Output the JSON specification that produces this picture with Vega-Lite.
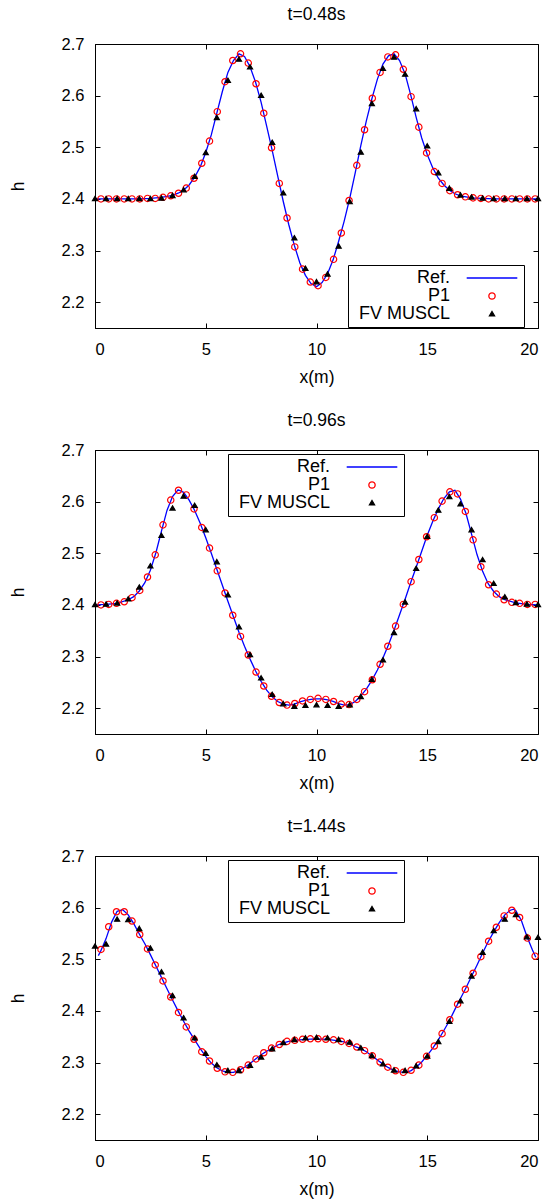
{
  "$schema": "https://vega.github.io/schema/vega-lite/v6.json",
  "background": "white",
  "padding": {"left": 8, "top": 5, "right": 5, "bottom": 2},
  "spacing": 24,
  "config": {
    "font": "Liberation Sans",
    "view": {"stroke": "black", "strokeWidth": 1},
    "axis": {"grid": false, "domainColor": "black", "domainWidth": 1, "tickColor": "black", "tickSize": -5, "tickWidth": 1, "labelColor": "black", "labelFontSize": 16.5, "labelFont": "Liberation Sans", "titleFont": "Liberation Sans", "titleFontSize": 17.5, "titleFontWeight": "normal", "titleColor": "black", "labelPadding": 18},
    "axisY": {"labelPadding": 16},
    "title": {"font": "Liberation Sans", "fontSize": 17.5, "fontWeight": "normal", "color": "black", "offset": 13},
    "legend": {"labelFont": "Liberation Sans", "labelFontSize": 18, "labelColor": "black", "strokeColor": "black", "fillColor": "white", "padding": 4, "rowPadding": 0, "labelAlign": "right", "labelOffset": -51, "symbolOffset": 131, "symbolSize": 40, "symbolStrokeWidth": 1.3}
  },
  "resolve": {"scale": {"color": "independent", "shape": "independent", "fill": "independent"}, "legend": {"color": "independent", "shape": "independent", "fill": "independent"}},
  "datasets": {
    "t048": [
      {"s":"Ref.","x":0,"h":2.4},{"s":"Ref.","x":1,"h":2.4},{"s":"Ref.","x":2,"h":2.4},{"s":"Ref.","x":2.5,"h":2.401},{"s":"Ref.","x":3,"h":2.403},{"s":"Ref.","x":3.25,"h":2.405},{"s":"Ref.","x":3.5,"h":2.407},{"s":"Ref.","x":3.75,"h":2.411},{"s":"Ref.","x":4,"h":2.417},{"s":"Ref.","x":4.25,"h":2.427},{"s":"Ref.","x":4.5,"h":2.442},{"s":"Ref.","x":4.75,"h":2.462},{"s":"Ref.","x":5,"h":2.49},{"s":"Ref.","x":5.25,"h":2.524},{"s":"Ref.","x":5.5,"h":2.566},{"s":"Ref.","x":5.75,"h":2.608},{"s":"Ref.","x":6,"h":2.645},{"s":"Ref.","x":6.25,"h":2.668},{"s":"Ref.","x":6.5,"h":2.681},{"s":"Ref.","x":6.75,"h":2.676},{"s":"Ref.","x":7,"h":2.656},{"s":"Ref.","x":7.25,"h":2.626},{"s":"Ref.","x":7.5,"h":2.587},{"s":"Ref.","x":7.75,"h":2.541},{"s":"Ref.","x":8,"h":2.494},{"s":"Ref.","x":8.25,"h":2.444},{"s":"Ref.","x":8.5,"h":2.395},{"s":"Ref.","x":8.75,"h":2.35},{"s":"Ref.","x":9,"h":2.31},{"s":"Ref.","x":9.25,"h":2.276},{"s":"Ref.","x":9.5,"h":2.252},{"s":"Ref.","x":9.75,"h":2.236},{"s":"Ref.","x":10,"h":2.23},{"s":"Ref.","x":10.25,"h":2.238},{"s":"Ref.","x":10.5,"h":2.255},{"s":"Ref.","x":10.75,"h":2.282},{"s":"Ref.","x":11,"h":2.318},{"s":"Ref.","x":11.25,"h":2.357},{"s":"Ref.","x":11.5,"h":2.401},{"s":"Ref.","x":11.75,"h":2.451},{"s":"Ref.","x":12,"h":2.503},{"s":"Ref.","x":12.25,"h":2.551},{"s":"Ref.","x":12.5,"h":2.594},{"s":"Ref.","x":12.75,"h":2.632},{"s":"Ref.","x":13,"h":2.661},{"s":"Ref.","x":13.25,"h":2.677},{"s":"Ref.","x":13.5,"h":2.681},{"s":"Ref.","x":13.75,"h":2.668},{"s":"Ref.","x":14,"h":2.642},{"s":"Ref.","x":14.25,"h":2.602},{"s":"Ref.","x":14.5,"h":2.558},{"s":"Ref.","x":14.75,"h":2.518},{"s":"Ref.","x":15,"h":2.486},{"s":"Ref.","x":15.25,"h":2.46},{"s":"Ref.","x":15.5,"h":2.44},{"s":"Ref.","x":15.75,"h":2.427},{"s":"Ref.","x":16,"h":2.417},{"s":"Ref.","x":16.25,"h":2.41},{"s":"Ref.","x":16.5,"h":2.406},{"s":"Ref.","x":16.75,"h":2.404},{"s":"Ref.","x":17,"h":2.402},{"s":"Ref.","x":17.5,"h":2.401},{"s":"Ref.","x":18,"h":2.4},{"s":"Ref.","x":19,"h":2.4},{"s":"Ref.","x":20,"h":2.4},
      {"s":"P1","x":0.27,"h":2.4},{"s":"P1","x":0.62,"h":2.4},{"s":"P1","x":0.97,"h":2.4},{"s":"P1","x":1.32,"h":2.4},{"s":"P1","x":1.67,"h":2.4},{"s":"P1","x":2.02,"h":2.4},{"s":"P1","x":2.37,"h":2.401},{"s":"P1","x":2.72,"h":2.401},{"s":"P1","x":3.07,"h":2.403},{"s":"P1","x":3.42,"h":2.406},{"s":"P1","x":3.77,"h":2.411},{"s":"P1","x":4.12,"h":2.421},{"s":"P1","x":4.47,"h":2.44},{"s":"P1","x":4.82,"h":2.469},{"s":"P1","x":5.17,"h":2.512},{"s":"P1","x":5.52,"h":2.569},{"s":"P1","x":5.87,"h":2.627},{"s":"P1","x":6.22,"h":2.668},{"s":"P1","x":6.57,"h":2.681},{"s":"P1","x":6.92,"h":2.663},{"s":"P1","x":7.27,"h":2.623},{"s":"P1","x":7.62,"h":2.566},{"s":"P1","x":7.97,"h":2.499},{"s":"P1","x":8.32,"h":2.43},{"s":"P1","x":8.67,"h":2.363},{"s":"P1","x":9.02,"h":2.307},{"s":"P1","x":9.37,"h":2.264},{"s":"P1","x":9.72,"h":2.239},{"s":"P1","x":10.07,"h":2.232},{"s":"P1","x":10.42,"h":2.248},{"s":"P1","x":10.77,"h":2.283},{"s":"P1","x":11.12,"h":2.334},{"s":"P1","x":11.47,"h":2.397},{"s":"P1","x":11.82,"h":2.465},{"s":"P1","x":12.17,"h":2.534},{"s":"P1","x":12.52,"h":2.595},{"s":"P1","x":12.87,"h":2.645},{"s":"P1","x":13.22,"h":2.675},{"s":"P1","x":13.57,"h":2.679},{"s":"P1","x":13.92,"h":2.651},{"s":"P1","x":14.27,"h":2.598},{"s":"P1","x":14.62,"h":2.539},{"s":"P1","x":14.97,"h":2.489},{"s":"P1","x":15.32,"h":2.453},{"s":"P1","x":15.67,"h":2.43},{"s":"P1","x":16.02,"h":2.416},{"s":"P1","x":16.37,"h":2.408},{"s":"P1","x":16.72,"h":2.404},{"s":"P1","x":17.07,"h":2.402},{"s":"P1","x":17.42,"h":2.401},{"s":"P1","x":17.77,"h":2.4},{"s":"P1","x":18.12,"h":2.4},{"s":"P1","x":18.47,"h":2.4},{"s":"P1","x":18.82,"h":2.4},{"s":"P1","x":19.17,"h":2.4},{"s":"P1","x":19.52,"h":2.4},{"s":"P1","x":19.87,"h":2.4},
      {"s":"FV MUSCL","x":0,"h":2.4},{"s":"FV MUSCL","x":0.5,"h":2.4},{"s":"FV MUSCL","x":1,"h":2.4},{"s":"FV MUSCL","x":1.5,"h":2.4},{"s":"FV MUSCL","x":2,"h":2.4},{"s":"FV MUSCL","x":2.5,"h":2.4},{"s":"FV MUSCL","x":3,"h":2.401},{"s":"FV MUSCL","x":3.5,"h":2.406},{"s":"FV MUSCL","x":4,"h":2.417},{"s":"FV MUSCL","x":4.5,"h":2.443},{"s":"FV MUSCL","x":5,"h":2.489},{"s":"FV MUSCL","x":5.5,"h":2.557},{"s":"FV MUSCL","x":6,"h":2.629},{"s":"FV MUSCL","x":6.5,"h":2.67},{"s":"FV MUSCL","x":7,"h":2.655},{"s":"FV MUSCL","x":7.5,"h":2.6},{"s":"FV MUSCL","x":8,"h":2.509},{"s":"FV MUSCL","x":8.5,"h":2.411},{"s":"FV MUSCL","x":9,"h":2.324},{"s":"FV MUSCL","x":9.5,"h":2.265},{"s":"FV MUSCL","x":10,"h":2.239},{"s":"FV MUSCL","x":10.5,"h":2.254},{"s":"FV MUSCL","x":11,"h":2.308},{"s":"FV MUSCL","x":11.5,"h":2.394},{"s":"FV MUSCL","x":12,"h":2.49},{"s":"FV MUSCL","x":12.5,"h":2.584},{"s":"FV MUSCL","x":13,"h":2.652},{"s":"FV MUSCL","x":13.5,"h":2.674},{"s":"FV MUSCL","x":14,"h":2.641},{"s":"FV MUSCL","x":14.5,"h":2.574},{"s":"FV MUSCL","x":15,"h":2.502},{"s":"FV MUSCL","x":15.5,"h":2.45},{"s":"FV MUSCL","x":16,"h":2.42},{"s":"FV MUSCL","x":16.5,"h":2.407},{"s":"FV MUSCL","x":17,"h":2.403},{"s":"FV MUSCL","x":17.5,"h":2.401},{"s":"FV MUSCL","x":18,"h":2.4},{"s":"FV MUSCL","x":18.5,"h":2.4},{"s":"FV MUSCL","x":19,"h":2.4},{"s":"FV MUSCL","x":19.5,"h":2.4},{"s":"FV MUSCL","x":20,"h":2.4}
    ],
    "t096": [
      {"s":"Ref.","x":0,"h":2.4},{"s":"Ref.","x":0.5,"h":2.401},{"s":"Ref.","x":1,"h":2.403},{"s":"Ref.","x":1.5,"h":2.41},{"s":"Ref.","x":1.75,"h":2.416},{"s":"Ref.","x":2,"h":2.427},{"s":"Ref.","x":2.25,"h":2.443},{"s":"Ref.","x":2.5,"h":2.467},{"s":"Ref.","x":2.75,"h":2.501},{"s":"Ref.","x":3,"h":2.543},{"s":"Ref.","x":3.25,"h":2.583},{"s":"Ref.","x":3.5,"h":2.61},{"s":"Ref.","x":3.75,"h":2.623},{"s":"Ref.","x":4,"h":2.618},{"s":"Ref.","x":4.25,"h":2.603},{"s":"Ref.","x":4.5,"h":2.583},{"s":"Ref.","x":4.75,"h":2.558},{"s":"Ref.","x":5,"h":2.53},{"s":"Ref.","x":5.25,"h":2.5},{"s":"Ref.","x":5.5,"h":2.469},{"s":"Ref.","x":5.75,"h":2.438},{"s":"Ref.","x":6,"h":2.407},{"s":"Ref.","x":6.25,"h":2.377},{"s":"Ref.","x":6.5,"h":2.347},{"s":"Ref.","x":6.75,"h":2.32},{"s":"Ref.","x":7,"h":2.295},{"s":"Ref.","x":7.25,"h":2.272},{"s":"Ref.","x":7.5,"h":2.252},{"s":"Ref.","x":7.75,"h":2.235},{"s":"Ref.","x":8,"h":2.222},{"s":"Ref.","x":8.25,"h":2.213},{"s":"Ref.","x":8.5,"h":2.208},{"s":"Ref.","x":8.75,"h":2.206},{"s":"Ref.","x":9,"h":2.208},{"s":"Ref.","x":9.25,"h":2.212},{"s":"Ref.","x":9.5,"h":2.215},{"s":"Ref.","x":9.75,"h":2.217},{"s":"Ref.","x":10,"h":2.218},{"s":"Ref.","x":10.25,"h":2.218},{"s":"Ref.","x":10.5,"h":2.216},{"s":"Ref.","x":10.75,"h":2.213},{"s":"Ref.","x":11,"h":2.209},{"s":"Ref.","x":11.25,"h":2.206},{"s":"Ref.","x":11.5,"h":2.207},{"s":"Ref.","x":11.75,"h":2.213},{"s":"Ref.","x":12,"h":2.224},{"s":"Ref.","x":12.25,"h":2.237},{"s":"Ref.","x":12.5,"h":2.254},{"s":"Ref.","x":12.75,"h":2.274},{"s":"Ref.","x":13,"h":2.297},{"s":"Ref.","x":13.25,"h":2.323},{"s":"Ref.","x":13.5,"h":2.351},{"s":"Ref.","x":13.75,"h":2.381},{"s":"Ref.","x":14,"h":2.411},{"s":"Ref.","x":14.25,"h":2.443},{"s":"Ref.","x":14.5,"h":2.473},{"s":"Ref.","x":14.75,"h":2.504},{"s":"Ref.","x":15,"h":2.535},{"s":"Ref.","x":15.25,"h":2.562},{"s":"Ref.","x":15.5,"h":2.586},{"s":"Ref.","x":15.75,"h":2.606},{"s":"Ref.","x":16,"h":2.619},{"s":"Ref.","x":16.25,"h":2.622},{"s":"Ref.","x":16.5,"h":2.605},{"s":"Ref.","x":16.75,"h":2.577},{"s":"Ref.","x":17,"h":2.537},{"s":"Ref.","x":17.25,"h":2.497},{"s":"Ref.","x":17.5,"h":2.465},{"s":"Ref.","x":17.75,"h":2.441},{"s":"Ref.","x":18,"h":2.426},{"s":"Ref.","x":18.25,"h":2.416},{"s":"Ref.","x":18.5,"h":2.41},{"s":"Ref.","x":19,"h":2.404},{"s":"Ref.","x":19.5,"h":2.401},{"s":"Ref.","x":20,"h":2.4},
      {"s":"P1","x":0.27,"h":2.4},{"s":"P1","x":0.62,"h":2.401},{"s":"P1","x":0.97,"h":2.403},{"s":"P1","x":1.32,"h":2.406},{"s":"P1","x":1.67,"h":2.414},{"s":"P1","x":2.02,"h":2.428},{"s":"P1","x":2.37,"h":2.454},{"s":"P1","x":2.72,"h":2.497},{"s":"P1","x":3.07,"h":2.555},{"s":"P1","x":3.42,"h":2.603},{"s":"P1","x":3.77,"h":2.622},{"s":"P1","x":4.12,"h":2.613},{"s":"P1","x":4.47,"h":2.586},{"s":"P1","x":4.82,"h":2.55},{"s":"P1","x":5.17,"h":2.51},{"s":"P1","x":5.52,"h":2.466},{"s":"P1","x":5.87,"h":2.423},{"s":"P1","x":6.22,"h":2.38},{"s":"P1","x":6.57,"h":2.339},{"s":"P1","x":6.92,"h":2.303},{"s":"P1","x":7.27,"h":2.27},{"s":"P1","x":7.62,"h":2.243},{"s":"P1","x":7.97,"h":2.223},{"s":"P1","x":8.32,"h":2.211},{"s":"P1","x":8.67,"h":2.206},{"s":"P1","x":9.02,"h":2.209},{"s":"P1","x":9.37,"h":2.214},{"s":"P1","x":9.72,"h":2.217},{"s":"P1","x":10.07,"h":2.219},{"s":"P1","x":10.42,"h":2.217},{"s":"P1","x":10.77,"h":2.213},{"s":"P1","x":11.12,"h":2.208},{"s":"P1","x":11.47,"h":2.207},{"s":"P1","x":11.82,"h":2.217},{"s":"P1","x":12.17,"h":2.232},{"s":"P1","x":12.52,"h":2.255},{"s":"P1","x":12.87,"h":2.285},{"s":"P1","x":13.22,"h":2.32},{"s":"P1","x":13.57,"h":2.359},{"s":"P1","x":13.92,"h":2.401},{"s":"P1","x":14.27,"h":2.445},{"s":"P1","x":14.62,"h":2.488},{"s":"P1","x":14.97,"h":2.532},{"s":"P1","x":15.32,"h":2.569},{"s":"P1","x":15.67,"h":2.601},{"s":"P1","x":16.02,"h":2.619},{"s":"P1","x":16.37,"h":2.615},{"s":"P1","x":16.72,"h":2.581},{"s":"P1","x":17.07,"h":2.526},{"s":"P1","x":17.42,"h":2.474},{"s":"P1","x":17.77,"h":2.439},{"s":"P1","x":18.12,"h":2.421},{"s":"P1","x":18.47,"h":2.41},{"s":"P1","x":18.82,"h":2.405},{"s":"P1","x":19.17,"h":2.403},{"s":"P1","x":19.52,"h":2.401},{"s":"P1","x":19.87,"h":2.401},
      {"s":"FV MUSCL","x":0,"h":2.4},{"s":"FV MUSCL","x":0.5,"h":2.401},{"s":"FV MUSCL","x":1,"h":2.403},{"s":"FV MUSCL","x":1.5,"h":2.411},{"s":"FV MUSCL","x":2,"h":2.434},{"s":"FV MUSCL","x":2.5,"h":2.475},{"s":"FV MUSCL","x":3,"h":2.534},{"s":"FV MUSCL","x":3.5,"h":2.587},{"s":"FV MUSCL","x":4,"h":2.61},{"s":"FV MUSCL","x":4.5,"h":2.592},{"s":"FV MUSCL","x":5,"h":2.545},{"s":"FV MUSCL","x":5.5,"h":2.483},{"s":"FV MUSCL","x":6,"h":2.419},{"s":"FV MUSCL","x":6.5,"h":2.357},{"s":"FV MUSCL","x":7,"h":2.303},{"s":"FV MUSCL","x":7.5,"h":2.258},{"s":"FV MUSCL","x":8,"h":2.226},{"s":"FV MUSCL","x":8.5,"h":2.208},{"s":"FV MUSCL","x":9,"h":2.203},{"s":"FV MUSCL","x":9.5,"h":2.205},{"s":"FV MUSCL","x":10,"h":2.206},{"s":"FV MUSCL","x":10.5,"h":2.205},{"s":"FV MUSCL","x":11,"h":2.203},{"s":"FV MUSCL","x":11.5,"h":2.206},{"s":"FV MUSCL","x":12,"h":2.222},{"s":"FV MUSCL","x":12.5,"h":2.255},{"s":"FV MUSCL","x":13,"h":2.293},{"s":"FV MUSCL","x":13.5,"h":2.346},{"s":"FV MUSCL","x":14,"h":2.405},{"s":"FV MUSCL","x":14.5,"h":2.47},{"s":"FV MUSCL","x":15,"h":2.532},{"s":"FV MUSCL","x":15.5,"h":2.583},{"s":"FV MUSCL","x":16,"h":2.609},{"s":"FV MUSCL","x":16.5,"h":2.595},{"s":"FV MUSCL","x":17,"h":2.545},{"s":"FV MUSCL","x":17.5,"h":2.487},{"s":"FV MUSCL","x":18,"h":2.441},{"s":"FV MUSCL","x":18.5,"h":2.415},{"s":"FV MUSCL","x":19,"h":2.404},{"s":"FV MUSCL","x":19.5,"h":2.401},{"s":"FV MUSCL","x":20,"h":2.4}
    ],
    "t144": [
      {"s":"Ref.","x":0.15,"h":2.507},{"s":"Ref.","x":0.25,"h":2.515},{"s":"Ref.","x":0.5,"h":2.54},{"s":"Ref.","x":0.75,"h":2.572},{"s":"Ref.","x":1,"h":2.593},{"s":"Ref.","x":1.25,"h":2.596},{"s":"Ref.","x":1.5,"h":2.586},{"s":"Ref.","x":1.75,"h":2.569},{"s":"Ref.","x":2,"h":2.549},{"s":"Ref.","x":2.25,"h":2.53},{"s":"Ref.","x":2.5,"h":2.509},{"s":"Ref.","x":2.75,"h":2.487},{"s":"Ref.","x":3,"h":2.465},{"s":"Ref.","x":3.25,"h":2.443},{"s":"Ref.","x":3.5,"h":2.421},{"s":"Ref.","x":3.75,"h":2.4},{"s":"Ref.","x":4,"h":2.38},{"s":"Ref.","x":4.25,"h":2.361},{"s":"Ref.","x":4.5,"h":2.344},{"s":"Ref.","x":4.75,"h":2.327},{"s":"Ref.","x":5,"h":2.312},{"s":"Ref.","x":5.25,"h":2.299},{"s":"Ref.","x":5.5,"h":2.29},{"s":"Ref.","x":5.75,"h":2.284},{"s":"Ref.","x":6,"h":2.281},{"s":"Ref.","x":6.25,"h":2.281},{"s":"Ref.","x":6.5,"h":2.285},{"s":"Ref.","x":6.75,"h":2.291},{"s":"Ref.","x":7,"h":2.298},{"s":"Ref.","x":7.25,"h":2.307},{"s":"Ref.","x":7.5,"h":2.315},{"s":"Ref.","x":7.75,"h":2.322},{"s":"Ref.","x":8,"h":2.328},{"s":"Ref.","x":8.25,"h":2.334},{"s":"Ref.","x":8.5,"h":2.338},{"s":"Ref.","x":8.75,"h":2.341},{"s":"Ref.","x":9,"h":2.343},{"s":"Ref.","x":9.5,"h":2.345},{"s":"Ref.","x":10,"h":2.346},{"s":"Ref.","x":10.5,"h":2.345},{"s":"Ref.","x":11,"h":2.342},{"s":"Ref.","x":11.25,"h":2.34},{"s":"Ref.","x":11.5,"h":2.336},{"s":"Ref.","x":11.75,"h":2.331},{"s":"Ref.","x":12,"h":2.327},{"s":"Ref.","x":12.25,"h":2.321},{"s":"Ref.","x":12.5,"h":2.313},{"s":"Ref.","x":12.75,"h":2.305},{"s":"Ref.","x":13,"h":2.297},{"s":"Ref.","x":13.25,"h":2.29},{"s":"Ref.","x":13.5,"h":2.285},{"s":"Ref.","x":13.75,"h":2.282},{"s":"Ref.","x":14,"h":2.281},{"s":"Ref.","x":14.25,"h":2.284},{"s":"Ref.","x":14.5,"h":2.291},{"s":"Ref.","x":14.75,"h":2.301},{"s":"Ref.","x":15,"h":2.314},{"s":"Ref.","x":15.25,"h":2.328},{"s":"Ref.","x":15.5,"h":2.344},{"s":"Ref.","x":15.75,"h":2.362},{"s":"Ref.","x":16,"h":2.381},{"s":"Ref.","x":16.25,"h":2.403},{"s":"Ref.","x":16.5,"h":2.424},{"s":"Ref.","x":16.75,"h":2.445},{"s":"Ref.","x":17,"h":2.467},{"s":"Ref.","x":17.25,"h":2.489},{"s":"Ref.","x":17.5,"h":2.512},{"s":"Ref.","x":17.75,"h":2.534},{"s":"Ref.","x":18,"h":2.553},{"s":"Ref.","x":18.25,"h":2.571},{"s":"Ref.","x":18.5,"h":2.586},{"s":"Ref.","x":18.75,"h":2.595},{"s":"Ref.","x":18.9,"h":2.597},{"s":"Ref.","x":19,"h":2.594},{"s":"Ref.","x":19.25,"h":2.575},{"s":"Ref.","x":19.5,"h":2.544},{"s":"Ref.","x":19.75,"h":2.518},{"s":"Ref.","x":19.9,"h":2.504},
      {"s":"P1","x":0.27,"h":2.519},{"s":"P1","x":0.62,"h":2.563},{"s":"P1","x":0.97,"h":2.592},{"s":"P1","x":1.32,"h":2.592},{"s":"P1","x":1.67,"h":2.574},{"s":"P1","x":2.02,"h":2.548},{"s":"P1","x":2.37,"h":2.52},{"s":"P1","x":2.72,"h":2.489},{"s":"P1","x":3.07,"h":2.458},{"s":"P1","x":3.42,"h":2.427},{"s":"P1","x":3.77,"h":2.397},{"s":"P1","x":4.12,"h":2.369},{"s":"P1","x":4.47,"h":2.345},{"s":"P1","x":4.82,"h":2.321},{"s":"P1","x":5.17,"h":2.303},{"s":"P1","x":5.52,"h":2.289},{"s":"P1","x":5.87,"h":2.282},{"s":"P1","x":6.22,"h":2.281},{"s":"P1","x":6.57,"h":2.286},{"s":"P1","x":6.92,"h":2.295},{"s":"P1","x":7.27,"h":2.307},{"s":"P1","x":7.62,"h":2.319},{"s":"P1","x":7.97,"h":2.328},{"s":"P1","x":8.32,"h":2.335},{"s":"P1","x":8.67,"h":2.341},{"s":"P1","x":9.02,"h":2.343},{"s":"P1","x":9.37,"h":2.345},{"s":"P1","x":9.72,"h":2.346},{"s":"P1","x":10.07,"h":2.346},{"s":"P1","x":10.42,"h":2.345},{"s":"P1","x":10.77,"h":2.344},{"s":"P1","x":11.12,"h":2.341},{"s":"P1","x":11.47,"h":2.337},{"s":"P1","x":11.82,"h":2.33},{"s":"P1","x":12.17,"h":2.323},{"s":"P1","x":12.52,"h":2.313},{"s":"P1","x":12.87,"h":2.301},{"s":"P1","x":13.22,"h":2.291},{"s":"P1","x":13.57,"h":2.284},{"s":"P1","x":13.92,"h":2.281},{"s":"P1","x":14.27,"h":2.285},{"s":"P1","x":14.62,"h":2.295},{"s":"P1","x":14.97,"h":2.312},{"s":"P1","x":15.32,"h":2.332},{"s":"P1","x":15.67,"h":2.356},{"s":"P1","x":16.02,"h":2.383},{"s":"P1","x":16.37,"h":2.413},{"s":"P1","x":16.72,"h":2.442},{"s":"P1","x":17.07,"h":2.473},{"s":"P1","x":17.42,"h":2.505},{"s":"P1","x":17.77,"h":2.535},{"s":"P1","x":18.12,"h":2.562},{"s":"P1","x":18.47,"h":2.584},{"s":"P1","x":18.82,"h":2.595},{"s":"P1","x":19.17,"h":2.581},{"s":"P1","x":19.52,"h":2.541},{"s":"P1","x":19.87,"h":2.506},
      {"s":"FV MUSCL","x":0,"h":2.525},{"s":"FV MUSCL","x":0.5,"h":2.529},{"s":"FV MUSCL","x":1,"h":2.577},{"s":"FV MUSCL","x":1.5,"h":2.576},{"s":"FV MUSCL","x":2,"h":2.559},{"s":"FV MUSCL","x":2.5,"h":2.521},{"s":"FV MUSCL","x":3,"h":2.475},{"s":"FV MUSCL","x":3.5,"h":2.429},{"s":"FV MUSCL","x":4,"h":2.386},{"s":"FV MUSCL","x":4.5,"h":2.347},{"s":"FV MUSCL","x":5,"h":2.317},{"s":"FV MUSCL","x":5.5,"h":2.295},{"s":"FV MUSCL","x":6,"h":2.284},{"s":"FV MUSCL","x":6.5,"h":2.284},{"s":"FV MUSCL","x":7,"h":2.294},{"s":"FV MUSCL","x":7.5,"h":2.31},{"s":"FV MUSCL","x":8,"h":2.326},{"s":"FV MUSCL","x":8.5,"h":2.338},{"s":"FV MUSCL","x":9,"h":2.344},{"s":"FV MUSCL","x":9.5,"h":2.347},{"s":"FV MUSCL","x":10,"h":2.348},{"s":"FV MUSCL","x":10.5,"h":2.347},{"s":"FV MUSCL","x":11,"h":2.344},{"s":"FV MUSCL","x":11.5,"h":2.339},{"s":"FV MUSCL","x":12,"h":2.328},{"s":"FV MUSCL","x":12.5,"h":2.313},{"s":"FV MUSCL","x":13,"h":2.297},{"s":"FV MUSCL","x":13.5,"h":2.285},{"s":"FV MUSCL","x":14,"h":2.284},{"s":"FV MUSCL","x":14.5,"h":2.293},{"s":"FV MUSCL","x":15,"h":2.312},{"s":"FV MUSCL","x":15.5,"h":2.34},{"s":"FV MUSCL","x":16,"h":2.379},{"s":"FV MUSCL","x":16.5,"h":2.419},{"s":"FV MUSCL","x":17,"h":2.467},{"s":"FV MUSCL","x":17.5,"h":2.513},{"s":"FV MUSCL","x":18,"h":2.555},{"s":"FV MUSCL","x":18.5,"h":2.577},{"s":"FV MUSCL","x":19,"h":2.586},{"s":"FV MUSCL","x":19.5,"h":2.543},{"s":"FV MUSCL","x":20,"h":2.542}
    ]
  },
  "vconcat": [
    {
      "title": "t=0.48s",
      "width": 443, "height": 284,
      "data": {"name": "t048"},
      "layer": [
        {
          "transform": [{"filter": "datum.s === 'Ref.'"}],
          "mark": {"type": "line", "strokeWidth": 1.3},
          "encoding": {
            "x": {"field": "x", "type": "quantitative", "scale": {"domain": [0, 20], "nice": false}, "axis": {"orient": "bottom", "title": "x(m)", "values": [0, 5, 10, 15, 20], "titlePadding": 11}},
            "y": {"field": "h", "type": "quantitative", "scale": {"domain": [2.15, 2.7], "nice": false, "zero": false}, "axis": {"orient": "left", "title": "h", "values": [2.2, 2.3, 2.4, 2.5, 2.6, 2.7], "format": ".1f", "titlePadding": 34}},
            "color": {"field": "s", "type": "nominal", "scale": {"domain": ["Ref.", "P1", "FV MUSCL"], "range": ["#0000ff", "#ff0000", "#000000"]}, "legend": {"title": null, "orient": "none", "legendX": 253, "legendY": 221}}
          }
        },
        {
          "transform": [{"filter": "datum.s !== 'Ref.'"}],
          "mark": {"type": "point", "filled": false, "strokeWidth": 1.2, "size": 40, "opacity": 1},
          "encoding": {
            "x": {"field": "x", "type": "quantitative", "scale": {"domain": [0, 20], "nice": false}, "axis": {"orient": "top", "labels": false, "title": null, "domain": false, "values": [0, 5, 10, 15, 20]}},
            "y": {"field": "h", "type": "quantitative", "scale": {"domain": [2.15, 2.7], "nice": false, "zero": false}, "axis": {"orient": "right", "labels": false, "title": null, "domain": false, "values": [2.2, 2.3, 2.4, 2.5, 2.6, 2.7]}},
            "color": {"field": "s", "type": "nominal", "scale": {"domain": ["Ref.", "P1", "FV MUSCL"], "range": ["#0000ff", "#ff0000", "#000000"]}, "legend": {"title": null, "orient": "none", "legendX": 253, "legendY": 221}},
            "shape": {"field": "s", "type": "nominal", "scale": {"domain": ["Ref.", "P1", "FV MUSCL"], "range": ["M-8,0H8", "circle", "M0,-0.8L0.8,0.55L-0.8,0.55Z"]}, "legend": {"title": null, "orient": "none", "legendX": 253, "legendY": 221}},
            "fill": {"field": "s", "type": "nominal", "scale": {"domain": ["Ref.", "P1", "FV MUSCL"], "range": ["transparent", "transparent", "#000000"]}, "legend": {"title": null, "orient": "none", "legendX": 253, "legendY": 221}}
          }
        }
      ]
    },
    {
      "title": "t=0.96s",
      "width": 443, "height": 284,
      "data": {"name": "t096"},
      "layer": [
        {
          "transform": [{"filter": "datum.s === 'Ref.'"}],
          "mark": {"type": "line", "strokeWidth": 1.3},
          "encoding": {
            "x": {"field": "x", "type": "quantitative", "scale": {"domain": [0, 20], "nice": false}, "axis": {"orient": "bottom", "title": "x(m)", "values": [0, 5, 10, 15, 20], "titlePadding": 11}},
            "y": {"field": "h", "type": "quantitative", "scale": {"domain": [2.15, 2.7], "nice": false, "zero": false}, "axis": {"orient": "left", "title": "h", "values": [2.2, 2.3, 2.4, 2.5, 2.6, 2.7], "format": ".1f", "titlePadding": 34}},
            "color": {"field": "s", "type": "nominal", "scale": {"domain": ["Ref.", "P1", "FV MUSCL"], "range": ["#0000ff", "#ff0000", "#000000"]}, "legend": {"title": null, "orient": "none", "legendX": 133, "legendY": 4}}
          }
        },
        {
          "transform": [{"filter": "datum.s !== 'Ref.'"}],
          "mark": {"type": "point", "filled": false, "strokeWidth": 1.2, "size": 40, "opacity": 1},
          "encoding": {
            "x": {"field": "x", "type": "quantitative", "scale": {"domain": [0, 20], "nice": false}, "axis": {"orient": "top", "labels": false, "title": null, "domain": false, "values": [0, 5, 10, 15, 20]}},
            "y": {"field": "h", "type": "quantitative", "scale": {"domain": [2.15, 2.7], "nice": false, "zero": false}, "axis": {"orient": "right", "labels": false, "title": null, "domain": false, "values": [2.2, 2.3, 2.4, 2.5, 2.6, 2.7]}},
            "color": {"field": "s", "type": "nominal", "scale": {"domain": ["Ref.", "P1", "FV MUSCL"], "range": ["#0000ff", "#ff0000", "#000000"]}, "legend": {"title": null, "orient": "none", "legendX": 133, "legendY": 4}},
            "shape": {"field": "s", "type": "nominal", "scale": {"domain": ["Ref.", "P1", "FV MUSCL"], "range": ["M-8,0H8", "circle", "M0,-0.8L0.8,0.55L-0.8,0.55Z"]}, "legend": {"title": null, "orient": "none", "legendX": 133, "legendY": 4}},
            "fill": {"field": "s", "type": "nominal", "scale": {"domain": ["Ref.", "P1", "FV MUSCL"], "range": ["transparent", "transparent", "#000000"]}, "legend": {"title": null, "orient": "none", "legendX": 133, "legendY": 4}}
          }
        }
      ]
    },
    {
      "title": "t=1.44s",
      "width": 443, "height": 284,
      "data": {"name": "t144"},
      "layer": [
        {
          "transform": [{"filter": "datum.s === 'Ref.'"}],
          "mark": {"type": "line", "strokeWidth": 1.3},
          "encoding": {
            "x": {"field": "x", "type": "quantitative", "scale": {"domain": [0, 20], "nice": false}, "axis": {"orient": "bottom", "title": "x(m)", "values": [0, 5, 10, 15, 20], "titlePadding": 11}},
            "y": {"field": "h", "type": "quantitative", "scale": {"domain": [2.15, 2.7], "nice": false, "zero": false}, "axis": {"orient": "left", "title": "h", "values": [2.2, 2.3, 2.4, 2.5, 2.6, 2.7], "format": ".1f", "titlePadding": 34}},
            "color": {"field": "s", "type": "nominal", "scale": {"domain": ["Ref.", "P1", "FV MUSCL"], "range": ["#0000ff", "#ff0000", "#000000"]}, "legend": {"title": null, "orient": "none", "legendX": 133, "legendY": 4}}
          }
        },
        {
          "transform": [{"filter": "datum.s !== 'Ref.'"}],
          "mark": {"type": "point", "filled": false, "strokeWidth": 1.2, "size": 40, "opacity": 1},
          "encoding": {
            "x": {"field": "x", "type": "quantitative", "scale": {"domain": [0, 20], "nice": false}, "axis": {"orient": "top", "labels": false, "title": null, "domain": false, "values": [0, 5, 10, 15, 20]}},
            "y": {"field": "h", "type": "quantitative", "scale": {"domain": [2.15, 2.7], "nice": false, "zero": false}, "axis": {"orient": "right", "labels": false, "title": null, "domain": false, "values": [2.2, 2.3, 2.4, 2.5, 2.6, 2.7]}},
            "color": {"field": "s", "type": "nominal", "scale": {"domain": ["Ref.", "P1", "FV MUSCL"], "range": ["#0000ff", "#ff0000", "#000000"]}, "legend": {"title": null, "orient": "none", "legendX": 133, "legendY": 4}},
            "shape": {"field": "s", "type": "nominal", "scale": {"domain": ["Ref.", "P1", "FV MUSCL"], "range": ["M-8,0H8", "circle", "M0,-0.8L0.8,0.55L-0.8,0.55Z"]}, "legend": {"title": null, "orient": "none", "legendX": 133, "legendY": 4}},
            "fill": {"field": "s", "type": "nominal", "scale": {"domain": ["Ref.", "P1", "FV MUSCL"], "range": ["transparent", "transparent", "#000000"]}, "legend": {"title": null, "orient": "none", "legendX": 133, "legendY": 4}}
          }
        }
      ]
    }
  ]
}
